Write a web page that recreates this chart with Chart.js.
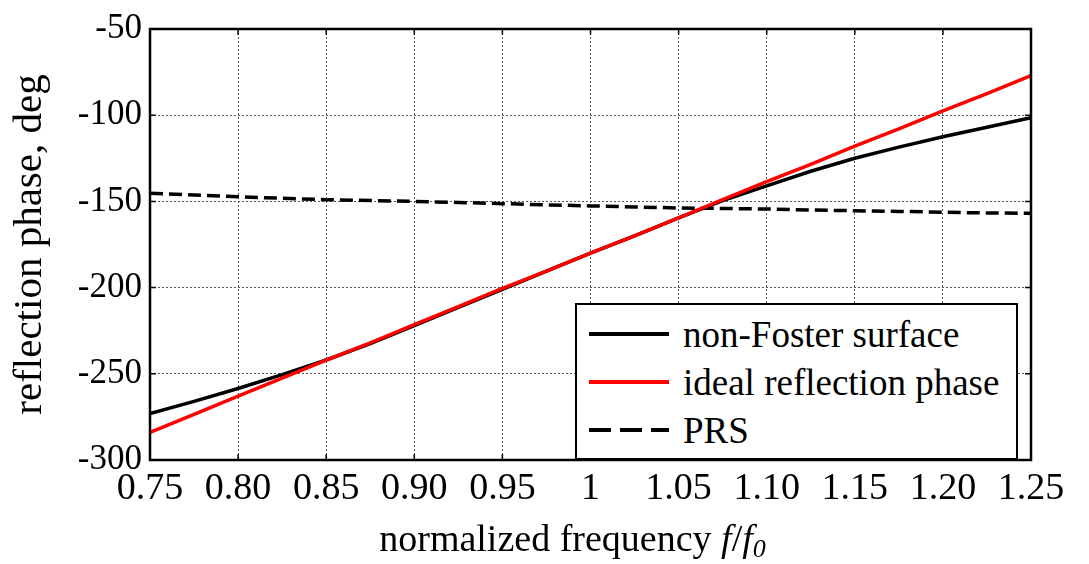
<!DOCTYPE html>
<html>
<head>
<meta charset="utf-8">
<script src="https://cdn.jsdelivr.net/npm/chart.js@4/dist/chart.umd.min.js"></script>
<style>
  body { margin: 0; background: #fff; }
  #wrap { position: relative; width: 1089px; height: 564px; }
  #xTitle {
    position: absolute; left: 0; width: 1145px; top: 516px;
    text-align: center; font-family: "Liberation Serif", serif; font-size: 38px; color: #000;
  }
  #xTitle sub { font-size: 26px; vertical-align: -6px; }
  #legend {
    position: absolute; left: 575px; top: 303px; width: 443px; height: 157px;
    border: 2.5px solid #000; background: #fff; box-sizing: border-box;
    font-family: "Liberation Serif", serif; font-size: 37px; color: #000;
    padding-top: 5px;
  }
  .row { display: flex; align-items: center; height: 48px; }
  .swatch { width: 80px; height: 4px; margin-left: 12px; margin-right: 14px; background: #000; }
</style>
</head>
<body>
<div id="wrap">
  <canvas id="chart" width="1089" height="564"></canvas>
  <div id="legend"></div>
  <div id="xTitle">normalized frequency <i>f</i>/<i>f</i><sub><i>0</i></sub></div>
</div>
<script>
// Datos
const frecuencias = [0.75, 0.775, 0.80, 0.825, 0.85, 0.875, 0.90, 0.925, 0.95, 0.975, 1.0,
                     1.025, 1.05, 1.075, 1.10, 1.125, 1.15, 1.175, 1.20, 1.225, 1.25];
const faseNonFoster = [-273, -266, -258.5, -250.5, -242, -232.5, -222, -211.5, -201, -190.5, -180,
                       -170, -159.5, -149.5, -141, -132.5, -125, -118.5, -112.5, -107, -101.5];
const faseIdeal = [-284, -273.5, -263, -252.5, -242, -232, -221.5, -211, -200.5, -190.5, -180,
                   -170, -159.5, -149, -138.5, -128.5, -118, -108, -97.5, -87.5, -77];
const fasePRS = [-145.3, -146.3, -147.3, -148.2, -149, -149.5, -150, -150.6, -151.3, -152, -152.6,
                 -153.2, -153.8, -154.1, -154.4, -155, -155.4, -155.8, -156.3, -156.7, -156.9];
const etiquetasX = ["0.75", "0.80", "0.85", "0.90", "0.95", "1", "1.05", "1.10", "1.15", "1.20", "1.25"];
const etiquetasY = ["-300", "-250", "-200", "-150", "-100", "-50"];

const serif = "'Liberation Serif', 'Times New Roman', serif";
Chart.defaults.font.family = serif;
Chart.defaults.color = '#000';

function puntos(valores) {
  return frecuencias.map((f, i) => ({ x: f, y: valores[i] }));
}

// --- Plugin: marco negro y marcas de tick hacia dentro ---
const marcoPlugin = {
  id: 'marco',
  afterDatasetsDraw(chart) {
    const { ctx, chartArea: a, scales } = chart;
    ctx.save();
    ctx.strokeStyle = '#000';
    ctx.lineWidth = 1.5;
    ctx.setLineDash([]);
    ctx.beginPath();
    scales.x.ticks.forEach(t => {
      const px = scales.x.getPixelForValue(t.value);
      ctx.moveTo(px, a.bottom); ctx.lineTo(px, a.bottom - 6);
      ctx.moveTo(px, a.top); ctx.lineTo(px, a.top + 6);
    });
    scales.y.ticks.forEach(t => {
      const py = scales.y.getPixelForValue(t.value);
      ctx.moveTo(a.left, py); ctx.lineTo(a.left + 6, py);
      ctx.moveTo(a.right, py); ctx.lineTo(a.right - 6, py);
    });
    ctx.stroke();
    ctx.lineWidth = 2.5;
    ctx.strokeRect(a.left, a.top, a.right - a.left, a.bottom - a.top);
    ctx.restore();
  }
};

const ctx = document.getElementById('chart').getContext('2d');
const grafico = new Chart(ctx, {
  type: 'line',
  data: {
    datasets: [
      {
        label: 'non-Foster surface',
        data: puntos(faseNonFoster),
        borderColor: '#000',
        borderWidth: 3.5,
        pointRadius: 0,
        order: 1
      },
      {
        label: 'ideal reflection phase',
        data: puntos(faseIdeal),
        borderColor: '#ff0000',
        borderWidth: 3.5,
        pointRadius: 0,
        order: 0
      },
      {
        label: 'PRS',
        data: puntos(fasePRS),
        borderColor: '#000',
        borderWidth: 3.5,
        borderDash: [13, 6],
        pointRadius: 0,
        order: 2
      }
    ]
  },
  options: {
    responsive: false,
    animation: false,
    layout: { padding: { top: 23, right: 58, left: 0, bottom: 0 } },
    plugins: {
      legend: { display: false },
      tooltip: { enabled: false }
    },
    scales: {
      x: {
        type: 'linear',
        min: 0.75,
        max: 1.25,
        afterFit: s => { s.height = 104; },
        afterBuildTicks: s => {
          s.ticks = etiquetasX.map(v => ({ value: parseFloat(v) }));
        },
        ticks: {
          autoSkip: false,
          maxRotation: 0,
          padding: 6,
          color: '#000',
          font: { family: serif, size: 38 },
          callback: (v, i) => etiquetasX[i]
        },
        grid: { color: '#555', lineWidth: 1, drawTicks: false },
        border: { display: false, dash: [2, 2] }
      },
      y: {
        min: -300,
        max: -50,
        afterFit: s => { s.width = 150; },
        afterBuildTicks: s => {
          s.ticks = etiquetasY.map(v => ({ value: parseFloat(v) }));
        },
        ticks: {
          padding: 8,
          color: '#000',
          font: { family: serif, size: 35 },
          callback: (v, i) => etiquetasY[i]
        },
        title: {
          display: true,
          text: 'reflection phase, deg',
          color: '#000',
          font: { family: serif, size: 41 },
          padding: { top: 6, bottom: 0 }
        },
        grid: { color: '#555', lineWidth: 1, drawTicks: false },
        border: { display: false, dash: [2, 2] }
      }
    }
  },
  plugins: [marcoPlugin]
});

// --- Leyenda HTML construida desde los datasets ---
const leyenda = document.getElementById('legend');
grafico.data.datasets.forEach(ds => {
  const fila = document.createElement('div');
  fila.className = 'row';
  const muestra = document.createElement('span');
  muestra.className = 'swatch';
  if (ds.borderDash) {
    muestra.style.background = `repeating-linear-gradient(to right, ${ds.borderColor} 0 22px, transparent 22px 31px)`;
  } else {
    muestra.style.background = ds.borderColor;
  }
  const texto = document.createElement('span');
  texto.textContent = ds.label;
  fila.appendChild(muestra);
  fila.appendChild(texto);
  leyenda.appendChild(fila);
});
</script>
</body>
</html>
